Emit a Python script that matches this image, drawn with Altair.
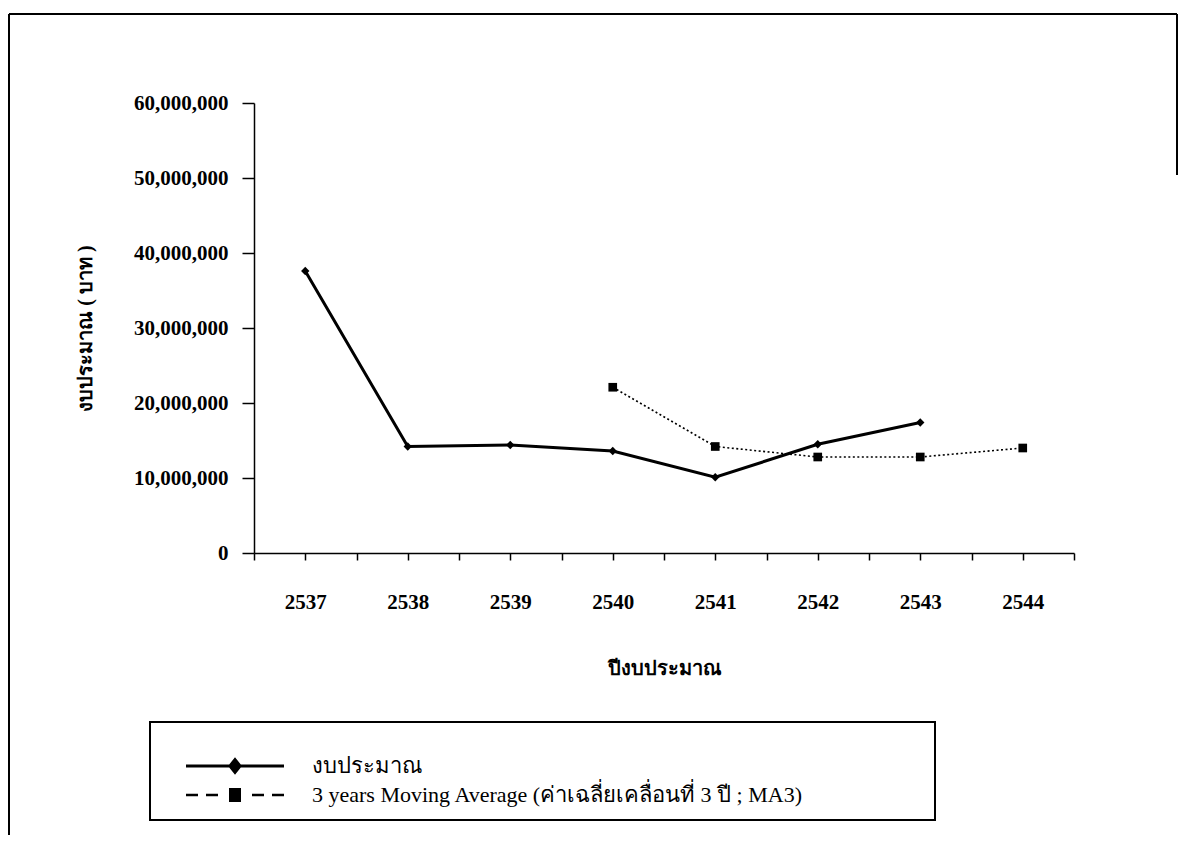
import altair as alt
import pandas as pd

# ---- data ----
budget_years = [2537, 2538, 2539, 2540, 2541, 2542, 2543]
budget_values = [37600000, 14200000, 14400000, 13600000, 10100000, 14500000, 17400000]
ma_years = [2540, 2541, 2542, 2543, 2544]
ma_values = [22100000, 14200000, 12800000, 12800000, 14000000]
x_tick_values = [2536.5, 2537, 2537.5, 2538, 2538.5, 2539, 2539.5, 2540, 2540.5,
                 2541, 2541.5, 2542, 2542.5, 2543, 2543.5, 2544, 2544.5]
y_tick_values = [0, 10000000, 20000000, 30000000, 40000000, 50000000, 60000000]
series_budget = "งบประมาณ"
series_ma = "3 years Moving Average (ค่าเฉลี่ยเคลื่อนที่ 3 ปี ; MA3)"
x_title = "ปีงบประมาณ"
y_title = "งบประมาณ ( บาท )"

df_b = pd.DataFrame({"year": budget_years, "value": budget_values, "series": series_budget})
df_m = pd.DataFrame({"year": ma_years, "value": ma_values, "series": series_ma})
df_all = pd.concat([df_b, df_m], ignore_index=True)

FONT = "Liberation Serif"

x_enc = alt.X(
    "year:Q",
    scale=alt.Scale(domain=[2536.5, 2544.5], nice=False, zero=False),
    axis=alt.Axis(
        values=x_tick_values,
        labelExpr="datum.value % 1 == 0 ? format(datum.value, 'd') : ''",
        tickSize=7, tickWidth=1.5, domainWidth=1.5,
        labelPadding=31, labelFontSize=21, labelFont=FONT, labelFontWeight="bold",
        labelOverlap=False, labelFlush=False,
        title=x_title, titleFont=FONT, titleFontSize=20, titleFontWeight="bold",
        titlePadding=46,
    ),
)
y_enc = alt.Y(
    "value:Q",
    scale=alt.Scale(domain=[0, 60000000], nice=False),
    axis=alt.Axis(
        values=y_tick_values, format=",d",
        tickSize=12, tickWidth=1.5, domainWidth=1.5,
        labelPadding=14, labelFontSize=21, labelFont=FONT, labelFontWeight="bold",
        title=y_title, titleFont=FONT, titleFontSize=20, titleFontWeight="bold",
        titlePadding=38,
    ),
)

line_b = alt.Chart(df_b).mark_line(color="black", strokeWidth=3).encode(x=x_enc, y=y_enc)
pts_b = alt.Chart(df_b).mark_point(shape="diamond", filled=True, color="black", size=70, opacity=1).encode(x="year:Q", y="value:Q")
line_m = alt.Chart(df_m).mark_line(color="black", strokeWidth=1.6, strokeDash=[2, 2.5]).encode(x="year:Q", y="value:Q")
pts_m = alt.Chart(df_m).mark_point(shape="square", filled=True, color="black", size=75, opacity=1).encode(x="year:Q", y="value:Q")

# legend glyphs (line + marker) as filled outlines, unit = 8 px
sym_budget = ("M1,-0.19H13.25V0.19H1Z"
              "M6.25,0L7.125,-1.1L8,0L7.125,1.1Z")
sym_ma = ("M1,-0.17H2.5V0.17H1Z"
          "M3.5,-0.17H5V0.17H3.5Z"
          "M9.25,-0.17H10.75V0.17H9.25Z"
          "M11.75,-0.17H13.25V0.17H11.75Z"
          "M6.375,-0.875H7.875V0.875H6.375Z")

legend_layer = alt.Chart(df_all).mark_point(filled=True, color="black", opacity=0).encode(
    x="year:Q", y="value:Q",
    shape=alt.Shape(
        "series:N",
        scale=alt.Scale(domain=[series_budget, series_ma], range=[sym_budget, sym_ma]),
        legend=alt.Legend(
            title=" ", titleFontSize=6, titlePadding=10,
            orient="none", legendX=-104, legendY=619,
            padding=17, rowPadding=7,
            labelFont=FONT, labelFontSize=22, labelColor="black",
            labelOffset=123, labelLimit=1000,
            symbolSize=256, symbolFillColor="black", symbolStrokeColor="black",
            symbolStrokeWidth=0, symbolOpacity=1,
        ),
    ),
)

# decorative frames (figure border and legend box)
frame_src = pd.DataFrame({"k": [0]})
frame_top = alt.Chart(frame_src).mark_rule(color="black", strokeWidth=2).encode(
    x=alt.value(-245), x2=alt.value(923), y=alt.value(-89))
frame_left = alt.Chart(frame_src).mark_rule(color="black", strokeWidth=2).encode(
    x=alt.value(-245), y=alt.value(-89), y2=alt.value(740))
frame_right = alt.Chart(frame_src).mark_rule(color="black", strokeWidth=2).encode(
    x=alt.value(923), y=alt.value(-89), y2=alt.value(72))
legend_box = alt.Chart(frame_src).mark_rect(
    fillOpacity=0, stroke="black", strokeWidth=2
).encode(x=alt.value(-104), x2=alt.value(681), y=alt.value(619), y2=alt.value(717))

chart = alt.layer(
    line_b, line_m, pts_b, pts_m, legend_layer, frame_top, frame_left, frame_right, legend_box
).properties(
    width=820, height=450,
    autosize=alt.AutoSizeParams(type="none"),
    padding={"left": 246, "top": 95, "right": 104, "bottom": 282},
    background="white",
).configure_view(stroke=None).configure_axis(
    grid=False, domainColor="black", tickColor="black", labelColor="black", titleColor="black",
)

chart.save("out.html", embed_options={"renderer": "svg", "actions": False})
